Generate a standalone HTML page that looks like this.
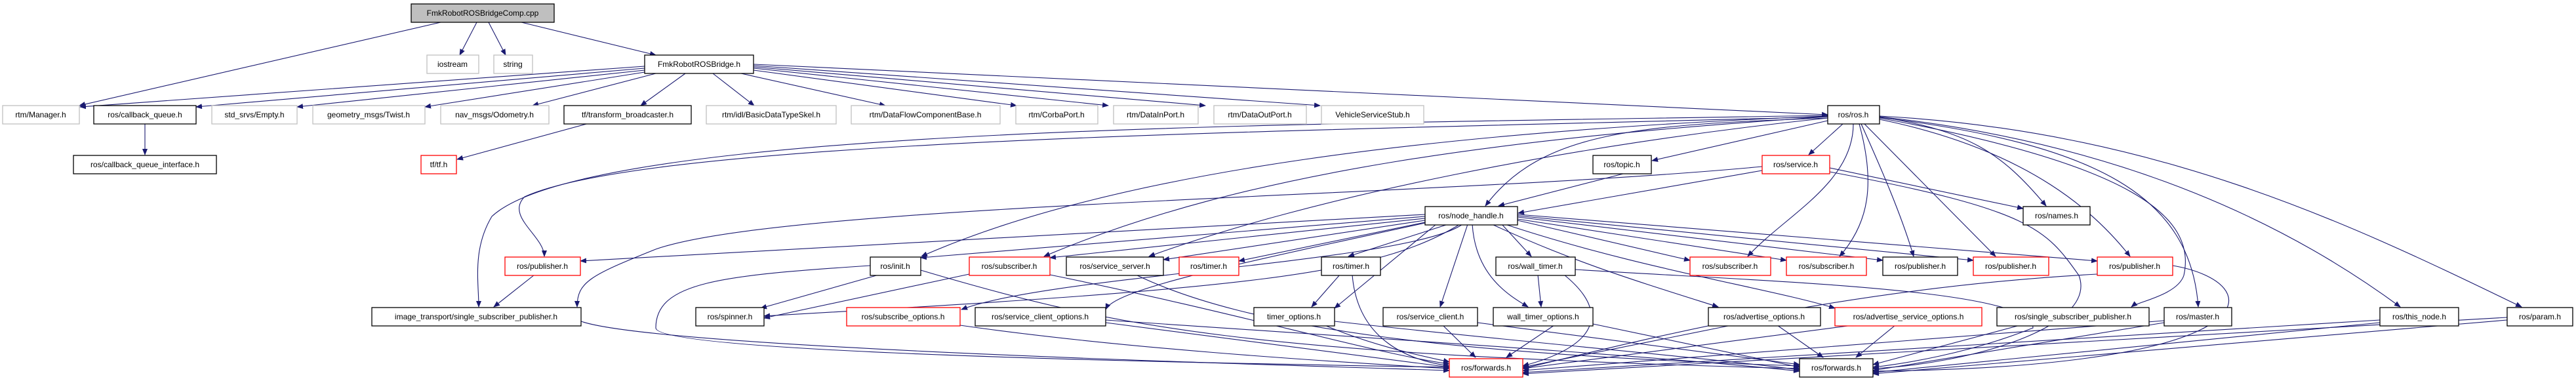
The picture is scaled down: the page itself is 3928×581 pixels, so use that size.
<!DOCTYPE html>
<html><head><meta charset="utf-8">
<style>
html,body{margin:0;padding:0;background:#fff;}
svg{display:block;}
text{font-family:"Liberation Sans","DejaVu Sans",sans-serif;font-size:12px;fill:#000;}
.b{fill:#fff;stroke:#000;stroke-width:1.3}
.g{fill:#fff;stroke:#bfbfbf;stroke-width:1.3}
.r{fill:#fff;stroke:#ff0000;stroke-width:1.3}
.e{fill:none;stroke:#191970;stroke-width:1.1}
</style></head><body>
<svg width="3928" height="581" viewBox="0 0 3928 581" xmlns="http://www.w3.org/2000/svg">
<defs>
<marker id="a" markerWidth="10" markerHeight="8" refX="9" refY="4" orient="auto" markerUnits="userSpaceOnUse">
<path d="M0,0 L10,4 L0,8 z" fill="#191970"/>
</marker>
</defs>
<g marker-end="url(#a)" class="e">
<!-- cpp -->
<path d="M672,34 L121,161"/>
<path d="M727,34 L701,84"/>
<path d="M745,34 L771,84"/>
<path d="M795,34 L1000,84"/>
<!-- bridge -->
<path d="M983,101 L122,163"/>
<path d="M983,104 L299,163"/>
<path d="M983,107 L453,163"/>
<path d="M983,110 L648,163"/>
<path d="M1000,112 L812,161"/>
<path d="M1045,112 L977,161"/>
<path d="M1087,112 L1150,161"/>
<path d="M1130,112 L1350,161"/>
<path d="M1149,107 L1550,161"/>
<path d="M1149,104 L1690,161"/>
<path d="M1149,102 L1838,161"/>
<path d="M1149,100 L2013,161"/>
<path d="M1149,98 L2787,175"/>
<path d="M221,188 L221,236"/>
<path d="M898,188 L697,243"/>
<!-- ros.h out -->
<path d="M2787,180 C2500,190 2350,200 2265,314"/>
<path d="M2787,184 L2519,245"/>
<path d="M2810,189 L2758,236"/>
<path d="M2866,178 C3000,200 3050,230 3120,314"/>
<path d="M2787,178 C2000,200 1000,210 800,300 C770,330 830,360 830,391"/>
<path d="M2787,176 C2000,190 900,190 750,330 C720,380 730,430 730,468"/>
<path d="M2787,177 C2200,200 1700,260 1405,391"/>
<path d="M2787,178 C2300,210 1900,260 1592,391"/>
<path d="M2787,180 C2400,220 2000,300 1752,391"/>
<path d="M2826,189 C2826,280 2720,330 2665,391"/>
<path d="M2835,189 C2860,280 2850,340 2805,391"/>
<path d="M2838,189 C2870,260 2900,330 2918,391"/>
<path d="M2843,189 L3043,391"/>
<path d="M2866,182 C3100,230 3200,330 3248,391"/>
<path d="M2866,180 C3250,250 3350,330 3330,420 C3320,450 3260,460 3250,468"/>
<path d="M2866,179 C3200,220 3340,300 3352,468"/>
<path d="M2866,178 C3250,220 3500,350 3660,468"/>
<path d="M2866,177 C3300,200 3600,350 3845,468"/>
<!-- topic / service -->
<path d="M2475,265 L2285,314"/>
<path d="M2687,260 L2315,325"/>
<path d="M2687,254 C2200,300 1200,310 1000,380 C900,420 880,430 880,468"/>
<path d="M2790,256 L3085,318"/>
<path d="M2790,262 C3100,320 3120,350 3170,420 C3200,500 3000,555 2856,562"/>
<!-- node_handle out -->
<path d="M2173,327 L885,398"/>
<path d="M2173,330 L1404,393"/>
<path d="M2173,333 L1601,393"/>
<path d="M2173,336 L1774,396"/>
<path d="M2173,339 L1889,398"/>
<path d="M2208,342 L2056,391"/>
<path d="M2290,342 L2335,391"/>
<path d="M2314,336 L2577,397"/>
<path d="M2314,334 L2724,397"/>
<path d="M2314,331 L2871,397"/>
<path d="M2314,329 L3009,397"/>
<path d="M2314,327 L3198,398"/>
<path d="M2230,342 C2150,400 1600,420 1466,472"/>
<path d="M2173,340 C1900,400 1700,440 1686,472"/>
<path d="M2226,342 C2100,420 1900,440 1165,482"/>
<path d="M2238,342 L2196,468"/>
<path d="M2245,342 C2250,420 2300,450 2330,468"/>
<path d="M2190,342 L2035,470"/>
<path d="M2275,342 C2400,400 2500,430 2620,468"/>
<path d="M2295,342 C2500,410 2700,440 2798,470"/>
<!-- row 391 -->
<path d="M815,419 L753,468"/>
<path d="M1340,419 L1160,470"/>
<path d="M1327,405 C1100,420 1000,430 1000,500 C1000,540 1900,555 2210,560"/>
<path d="M1404,412 C1700,500 1900,540 2744,562"/>
<path d="M1478,418 L1165,485"/>
<path d="M1601,419 C1900,480 2100,540 2210,555"/>
<path d="M1732,419 C1900,500 2200,540 2744,558"/>
<path d="M2043,419 L2000,468"/>
<path d="M2062,419 C2070,520 2150,550 2210,558"/>
<path d="M2345,419 L2350,468"/>
<path d="M2385,419 C2460,480 2430,530 2322,558"/>
<path d="M2402,411 C2700,430 3100,440 3100,500 C3000,540 2900,555 2856,560"/>
<path d="M3313,405 C3460,430 3480,560 2856,566"/>
<path d="M3198,418 C2800,440 2500,520 2322,562"/>
<!-- row 468 -> forwards -->
<path d="M886,490 C1000,530 1900,555 2210,565"/>
<path d="M1464,496 C1700,530 2000,550 2210,562"/>
<path d="M1686,488 C2000,510 2500,540 2744,566"/>
<path d="M1686,492 C1900,520 2100,545 2210,560"/>
<path d="M2020,496 C2100,530 2180,545 2210,552"/>
<path d="M2035,490 C2300,520 2600,545 2744,564"/>
<path d="M2200,496 L2250,545"/>
<path d="M2253,492 L2744,556"/>
<path d="M2370,496 L2297,545"/>
<path d="M2429,494 L2744,560"/>
<path d="M2640,496 L2322,560"/>
<path d="M2710,496 L2780,545"/>
<path d="M2825,496 L2322,562"/>
<path d="M2890,496 L2830,545"/>
<path d="M3080,496 L2856,556"/>
<path d="M3300,489 L2322,565"/>
<path d="M3300,492 L2856,565"/>
<path d="M3629,488 L2322,568"/>
<path d="M3629,492 L2856,568"/>
<path d="M3823,484 L2322,570"/>
<path d="M3823,488 L2856,570"/>
</g>
<!-- nodes -->
<rect x="627" y="6" width="218" height="28" fill="#bfbfbf" stroke="#000" stroke-width="1.3"/><text x="736" y="24" text-anchor="middle">FmkRobotROSBridgeComp.cpp</text>
<rect class="g" x="651" y="84" width="79" height="28"/><text x="690" y="102" text-anchor="middle">iostream</text>
<rect class="g" x="753" y="84" width="59" height="28"/><text x="782" y="102" text-anchor="middle">string</text>
<rect class="b" x="983" y="84" width="166" height="28"/><text x="1066" y="102" text-anchor="middle">FmkRobotROSBridge.h</text>

<rect class="g" x="4" y="161" width="117" height="28"/><text x="62" y="179" text-anchor="middle">rtm/Manager.h</text>
<rect class="b" x="143" y="161" width="156" height="28"/><text x="221" y="179" text-anchor="middle">ros/callback_queue.h</text>
<rect class="g" x="323" y="161" width="130" height="28"/><text x="388" y="179" text-anchor="middle">std_srvs/Empty.h</text>
<rect class="g" x="477" y="161" width="171" height="28"/><text x="562" y="179" text-anchor="middle">geometry_msgs/Twist.h</text>
<rect class="g" x="672" y="161" width="165" height="28"/><text x="754" y="179" text-anchor="middle">nav_msgs/Odometry.h</text>
<rect class="b" x="860" y="161" width="194" height="28"/><text x="957" y="179" text-anchor="middle">tf/transform_broadcaster.h</text>
<rect class="g" x="1077" y="161" width="198" height="28"/><text x="1176" y="179" text-anchor="middle">rtm/idl/BasicDataTypeSkel.h</text>
<rect class="g" x="1298" y="161" width="227" height="28"/><text x="1411" y="179" text-anchor="middle">rtm/DataFlowComponentBase.h</text>
<rect class="g" x="1549" y="161" width="125" height="28"/><text x="1611" y="179" text-anchor="middle">rtm/CorbaPort.h</text>
<rect class="g" x="1698" y="161" width="129" height="28"/><text x="1762" y="179" text-anchor="middle">rtm/DataInPort.h</text>
<rect class="g" x="1851" y="161" width="141" height="28"/><text x="1921" y="179" text-anchor="middle">rtm/DataOutPort.h</text>
<rect class="g" x="2015" y="161" width="156" height="28"/><text x="2093" y="179" text-anchor="middle">VehicleServiceStub.h</text>
<rect class="b" x="2787" y="161" width="79" height="28"/><text x="2826" y="179" text-anchor="middle">ros/ros.h</text>

<rect class="b" x="112" y="237" width="218" height="28"/><text x="221" y="255" text-anchor="middle">ros/callback_queue_interface.h</text>
<rect class="r" x="642" y="237" width="54" height="28"/><text x="669" y="255" text-anchor="middle">tf/tf.h</text>
<rect class="b" x="2429" y="237" width="89" height="28"/><text x="2473" y="255" text-anchor="middle">ros/topic.h</text>
<rect class="r" x="2687" y="237" width="103" height="28"/><text x="2738" y="255" text-anchor="middle">ros/service.h</text>

<rect class="b" x="2173" y="315" width="141" height="28"/><text x="2243" y="333" text-anchor="middle">ros/node_handle.h</text>
<rect class="b" x="3085" y="315" width="102" height="28"/><text x="3136" y="333" text-anchor="middle">ros/names.h</text>

<rect class="r" x="770" y="392" width="115" height="28"/><text x="827" y="410" text-anchor="middle">ros/publisher.h</text>
<rect class="b" x="1327" y="392" width="77" height="28"/><text x="1365" y="410" text-anchor="middle">ros/init.h</text>
<rect class="r" x="1478" y="392" width="123" height="28"/><text x="1539" y="410" text-anchor="middle">ros/subscriber.h</text>
<rect class="b" x="1626" y="392" width="148" height="28"/><text x="1700" y="410" text-anchor="middle">ros/service_server.h</text>
<rect class="r" x="1798" y="392" width="91" height="28"/><text x="1843" y="410" text-anchor="middle">ros/timer.h</text>
<rect class="b" x="2015" y="392" width="90" height="28"/><text x="2060" y="410" text-anchor="middle">ros/timer.h</text>
<rect class="b" x="2281" y="392" width="121" height="28"/><text x="2341" y="410" text-anchor="middle">ros/wall_timer.h</text>
<rect class="r" x="2577" y="392" width="123" height="28"/><text x="2638" y="410" text-anchor="middle">ros/subscriber.h</text>
<rect class="r" x="2724" y="392" width="122" height="28"/><text x="2785" y="410" text-anchor="middle">ros/subscriber.h</text>
<rect class="b" x="2871" y="392" width="114" height="28"/><text x="2928" y="410" text-anchor="middle">ros/publisher.h</text>
<rect class="r" x="3009" y="392" width="115" height="28"/><text x="3066" y="410" text-anchor="middle">ros/publisher.h</text>
<rect class="r" x="3198" y="392" width="115" height="28"/><text x="3255" y="410" text-anchor="middle">ros/publisher.h</text>

<rect class="b" x="567" y="469" width="319" height="28"/><text x="726" y="487" text-anchor="middle">image_transport/single_subscriber_publisher.h</text>
<rect class="b" x="1061" y="469" width="104" height="28"/><text x="1113" y="487" text-anchor="middle">ros/spinner.h</text>
<rect class="r" x="1291" y="469" width="173" height="28"/><text x="1377" y="487" text-anchor="middle">ros/subscribe_options.h</text>
<rect class="b" x="1487" y="469" width="199" height="28"/><text x="1586" y="487" text-anchor="middle">ros/service_client_options.h</text>
<rect class="b" x="1912" y="469" width="123" height="28"/><text x="1973" y="487" text-anchor="middle">timer_options.h</text>
<rect class="b" x="2109" y="469" width="144" height="28"/><text x="2181" y="487" text-anchor="middle">ros/service_client.h</text>
<rect class="b" x="2277" y="469" width="152" height="28"/><text x="2353" y="487" text-anchor="middle">wall_timer_options.h</text>
<rect class="b" x="2605" y="469" width="171" height="28"/><text x="2690" y="487" text-anchor="middle">ros/advertise_options.h</text>
<rect class="r" x="2798" y="469" width="224" height="28"/><text x="2910" y="487" text-anchor="middle">ros/advertise_service_options.h</text>
<rect class="b" x="3045" y="469" width="232" height="28"/><text x="3161" y="487" text-anchor="middle">ros/single_subscriber_publisher.h</text>
<rect class="b" x="3300" y="469" width="103" height="28"/><text x="3351" y="487" text-anchor="middle">ros/master.h</text>
<rect class="b" x="3629" y="469" width="120" height="28"/><text x="3689" y="487" text-anchor="middle">ros/this_node.h</text>
<rect class="b" x="3823" y="469" width="100" height="28"/><text x="3873" y="487" text-anchor="middle">ros/param.h</text>

<rect class="r" x="2210" y="547" width="112" height="28"/><text x="2266" y="565" text-anchor="middle">ros/forwards.h</text>
<rect class="b" x="2744" y="547" width="112" height="28"/><text x="2800" y="565" text-anchor="middle">ros/forwards.h</text>
</svg>
</body></html>
